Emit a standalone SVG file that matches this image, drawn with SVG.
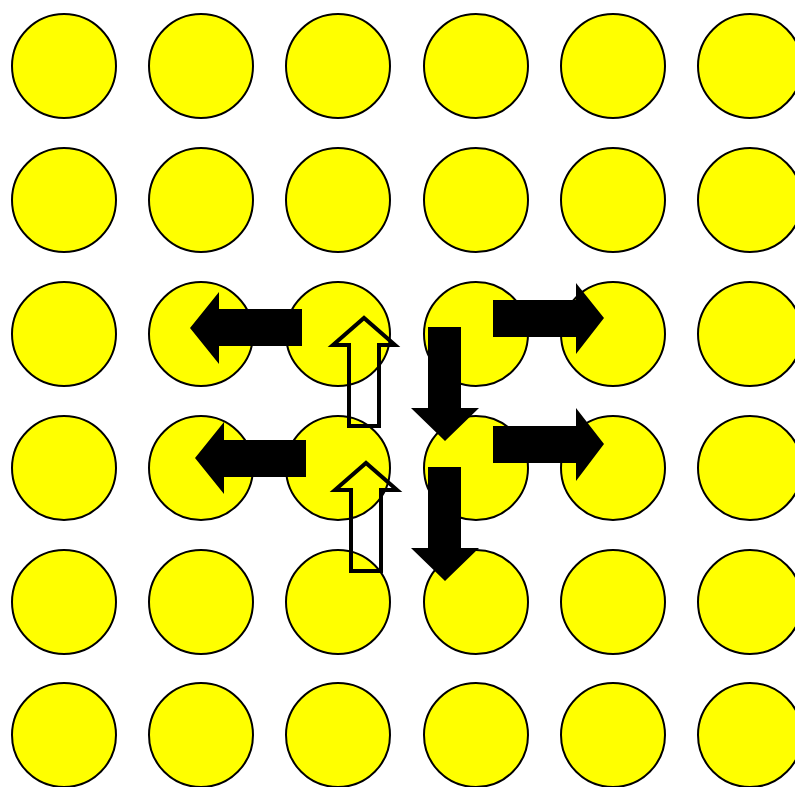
<svg xmlns="http://www.w3.org/2000/svg" width="795" height="787" viewBox="0 0 795 787">
<style>
.c{fill:#ffff00;stroke:#000;stroke-width:2}
.a{fill:#000;stroke:none}
.h{fill:none;stroke:#000;stroke-width:4;stroke-linejoin:miter}
</style>
<rect width="795" height="787" fill="#fff"/>
<defs><circle id="dot" r="52" class="c"/></defs>
<g id="grid">
<g id="r1"><use href="#dot" x="64" y="66"/><use href="#dot" x="201" y="66"/><use href="#dot" x="338" y="66"/><use href="#dot" x="476" y="66"/><use href="#dot" x="613" y="66"/><use href="#dot" x="750" y="66"/></g>
<g id="r2"><use href="#dot" x="64" y="200"/><use href="#dot" x="201" y="200"/><use href="#dot" x="338" y="200"/><use href="#dot" x="476" y="200"/><use href="#dot" x="613" y="200"/><use href="#dot" x="750" y="200"/></g>
<g id="r3"><use href="#dot" x="64" y="334"/><use href="#dot" x="201" y="334"/><use href="#dot" x="338" y="334"/><use href="#dot" x="476" y="334"/><use href="#dot" x="613" y="334"/><use href="#dot" x="750" y="334"/></g>
<g id="r4"><use href="#dot" x="64" y="468"/><use href="#dot" x="201" y="468"/><use href="#dot" x="338" y="468"/><use href="#dot" x="476" y="468"/><use href="#dot" x="613" y="468"/><use href="#dot" x="750" y="468"/></g>
<g id="r5"><use href="#dot" x="64" y="602"/><use href="#dot" x="201" y="602"/><use href="#dot" x="338" y="602"/><use href="#dot" x="476" y="602"/><use href="#dot" x="613" y="602"/><use href="#dot" x="750" y="602"/></g>
<g id="r6"><use href="#dot" x="64" y="735"/><use href="#dot" x="201" y="735"/><use href="#dot" x="338" y="735"/><use href="#dot" x="476" y="735"/><use href="#dot" x="613" y="735"/><use href="#dot" x="750" y="735"/></g>
</g>
<g id="arrows">
<polygon id="left1" class="a" points="302,309 219,309 219,292 190,328 219,364 219,346 302,346"/>
<polygon id="left2" class="a" points="306,440 224,440 224,422 195,458 224,494 224,477 306,477"/>
<polygon id="right1" class="a" points="493,300 576,300 576,283 604,318 576,354 576,337 493,337"/>
<polygon id="right2" class="a" points="493,426 576,426 576,408 604,444 576,481 576,463 493,463"/>
<polygon id="down1" class="a" points="428,327 461,327 461,408 479,408 445,441 411,408 428,408"/>
<polygon id="down2" class="a" points="428,467 461,467 461,548 479,548 445,581 411,548 428,548"/>
<polygon id="up1" class="h" points="349,426 379,426 379,345 395,345 364,318 333,345 349,345"/>
<polygon id="up2" class="h" points="351,571 381,571 381,490 397,490 366,463 335,490 351,490"/>
</g>
</svg>
